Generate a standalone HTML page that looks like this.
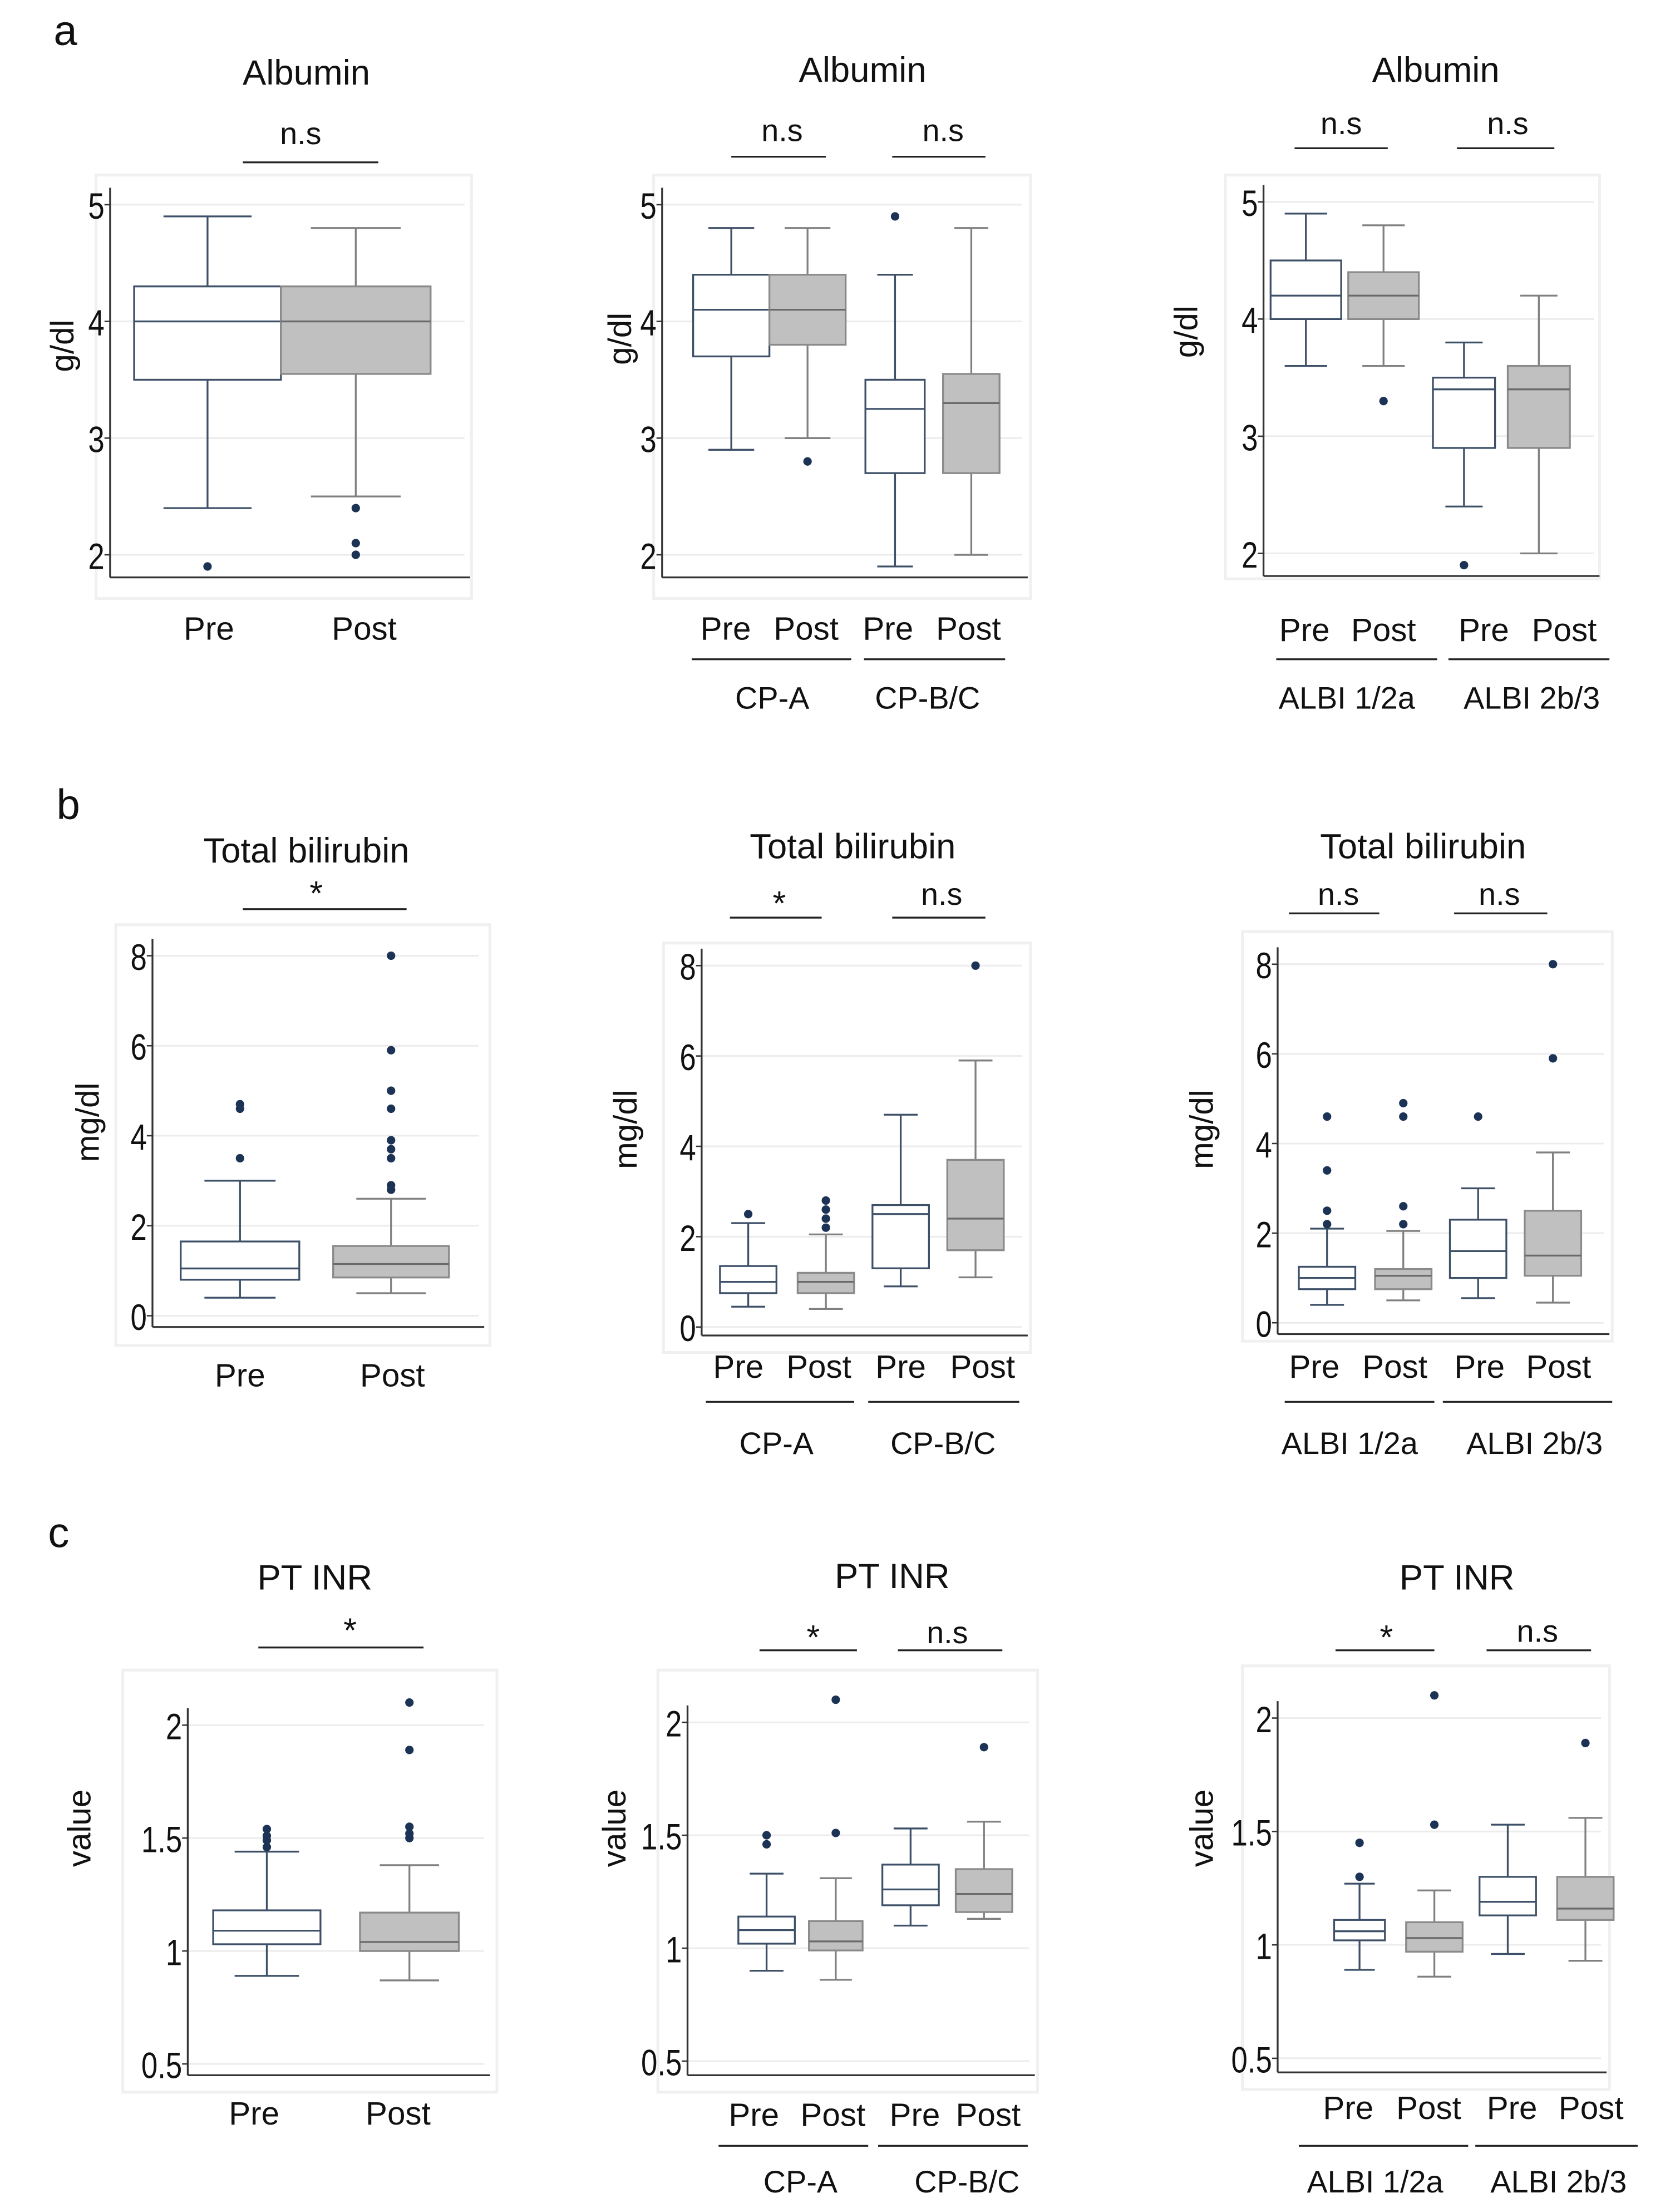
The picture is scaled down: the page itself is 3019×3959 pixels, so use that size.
<!DOCTYPE html>
<html><head><meta charset="utf-8"><style>
html,body{margin:0;padding:0;background:#fff;}
svg{display:block;}
text{font-family:"Liberation Sans",sans-serif;fill:#111;}
.tick{font-family:"Liberation Sans Narrow","Liberation Sans",sans-serif;font-size:26px;}
</style></head><body>
<svg id="fig" width="3019" height="3959" viewBox="0 0 1190 1560.5" preserveAspectRatio="none" xmlns="http://www.w3.org/2000/svg">
<text x="38" y="32" font-size="30">a</text>
<text x="40" y="580" font-size="30">b</text>
<text x="34" y="1096" font-size="30">c</text>
</svg>
<script>
// ---- data: [min, q1, median, q3, max] per box, outliers per box ----
const groupsPrePost = ["Pre","Post"];
const groupsCP = ["Pre","Post","Pre","Post"];
const groupsALBI = ["Pre","Post","Pre","Post"];
const subgroupsCP = ["CP-A","CP-B/C"];
const subgroupsALBI = ["ALBI 1/2a","ALBI 2b/3"];
const albTicks = [2,3,4,5];
const bilTicks = [0,2,4,6,8];
const inrTicks = [0.5,1,1.5,2];
const albTickLabels = ["2","3","4","5"];
const bilTickLabels = ["0","2","4","6","8"];
const inrTickLabels = ["0.5","1","1.5","2"];

const a1Stats = [[2.4,3.5,4.0,4.3,4.9],[2.5,3.55,4.0,4.3,4.8]];
const a1Out = [[1.9],[2.4,2.1,2.0]];
const a2Stats = [[2.9,3.7,4.1,4.4,4.8],[3.0,3.8,4.1,4.4,4.8],[1.9,2.7,3.25,3.5,4.4],[2.0,2.7,3.3,3.55,4.8]];
const a2Out = [[],[2.8],[4.9],[]];
const a3Stats = [[3.6,4.0,4.2,4.5,4.9],[3.6,4.0,4.2,4.4,4.8],[2.4,2.9,3.4,3.5,3.8],[2.0,2.9,3.4,3.6,4.2]];
const a3Out = [[],[3.3],[1.9],[]];

const b1Stats = [[0.4,0.8,1.05,1.65,3.0],[0.5,0.85,1.15,1.55,2.6]];
const b1Out = [[3.5,4.6,4.7],[2.8,2.9,3.5,3.7,3.9,4.6,5.0,5.9,8.0]];
const b2Stats = [[0.45,0.75,1.0,1.35,2.3],[0.4,0.75,1.0,1.2,2.05],[0.9,1.3,2.5,2.7,4.7],[1.1,1.7,2.4,3.7,5.9]];
const b2Out = [[2.5],[2.2,2.4,2.6,2.8],[],[8.0]];
const b3Stats = [[0.4,0.75,1.0,1.25,2.1],[0.5,0.75,1.05,1.2,2.05],[0.55,1.0,1.6,2.3,3.0],[0.45,1.05,1.5,2.5,3.8]];
const b3Out = [[2.2,2.5,3.4,4.6],[2.2,2.6,4.6,4.9],[4.6],[5.9,8.0]];

const c1Stats = [[0.89,1.03,1.09,1.18,1.44],[0.87,1.0,1.04,1.17,1.38]];
const c1Out = [[1.46,1.49,1.51,1.54],[1.5,1.52,1.55,1.89,2.1]];
const c2Stats = [[0.9,1.02,1.08,1.14,1.33],[0.86,0.99,1.03,1.12,1.31],[1.1,1.19,1.26,1.37,1.53],[1.13,1.16,1.24,1.35,1.56]];
const c2Out = [[1.46,1.5],[1.51,2.1],[],[1.89]];
const c3Stats = [[0.89,1.02,1.06,1.11,1.27],[0.86,0.97,1.03,1.1,1.24],[0.96,1.13,1.19,1.3,1.53],[0.93,1.11,1.16,1.3,1.56]];
const c3Out = [[1.3,1.45],[1.53,2.1],[],[1.89]];

// ---- layout ----
const NS="http://www.w3.org/2000/svg";
const svg=document.getElementById('fig');
function mk(tag,attrs,parent){const e=document.createElementNS(NS,tag);for(const k in attrs)e.setAttribute(k,attrs[k]);(parent||svg).appendChild(e);return e;}
function txt(s,x,y,size,anchor,parent,extra){const t=mk('text',Object.assign({x:x,y:y,'font-size':size,'text-anchor':anchor||'middle'},extra||{}),parent);t.textContent=s;return t;}

const panels=[
 {id:'a1',title:'Albumin',tx:217,ty:60,frame:[68,124,334,424],ax:78,ay:409,ar:333,tk:albTicks,tl:albTickLabels,t0:[2,393],t1:[5,145],ylab:'g/dl',ylx:52,yly:245,
  cx:[147,252],hw:[52,53],stats:a1Stats,out:a1Out,xl:groupsPrePost,xlx:[148,258],xly:453,
  sig:[['n.s',213,102,172,268,115]],sub:null},
 {id:'a2',title:'Albumin',tx:611,ty:58,frame:[463,124,730,424],ax:469,ay:409,ar:728,tk:albTicks,tl:albTickLabels,t0:[2,393],t1:[5,145],ylab:'g/dl',ylx:447,yly:240,
  cx:[518,572,634,688],hw:[27,27,21,20],stats:a2Stats,out:a2Out,xl:groupsCP,xlx:[514,571,629,686],xly:453,
  sig:[['n.s',554,100,518,585,111],['n.s',668,100,632,698,111]],sub:{labels:subgroupsCP,lines:[[490,603],[612,712]],ly:467,lx:[547,657],lty:502}},
 {id:'a3',title:'Albumin',tx:1017,ty:58,frame:[868,124,1133,410],ax:895,ay:408,ar:1133,tk:albTicks,tl:albTickLabels,t0:[2,392],t1:[5,143],ylab:'g/dl',ylx:848,yly:235,
  cx:[925,980,1037,1090],hw:[25,25,22,22],stats:a3Stats,out:a3Out,xl:groupsALBI,xlx:[924,980,1051,1108],xly:454,
  sig:[['n.s',950,95,917,983,105],['n.s',1068,95,1032,1101,105]],sub:{labels:subgroupsALBI,lines:[[904,1018],[1026,1140]],ly:467,lx:[954,1085],lty:502}},
 {id:'b1',title:'Total bilirubin',tx:217,ty:611,frame:[82,655,347,953],ax:108,ay:940,ar:343,tk:bilTicks,tl:bilTickLabels,t0:[0,932],t1:[8,677],ylab:'mg/dl',ylx:70,yly:795,
  cx:[170,277],hw:[42,41],stats:b1Stats,out:b1Out,xl:groupsPrePost,xlx:[170,278],xly:982,
  sig:[['*',224,641,172,288,644]],sub:null},
 {id:'b2',title:'Total bilirubin',tx:604,ty:608,frame:[470,668,730,958],ax:497,ay:946,ar:728,tk:bilTicks,tl:bilTickLabels,t0:[0,940],t1:[8,684],ylab:'mg/dl',ylx:451,yly:800,
  cx:[530,585,638,691],hw:[20,20,20,20],stats:b2Stats,out:b2Out,xl:groupsCP,xlx:[523,580,638,696],xly:976,
  sig:[['*',552,648,517,582,650],['n.s',667,641,632,698,650]],sub:{labels:subgroupsCP,lines:[[500,605],[615,722]],ly:993,lx:[550,668],lty:1030}},
 {id:'b3',title:'Total bilirubin',tx:1008,ty:608,frame:[880,660,1142,950],ax:905,ay:945,ar:1140,tk:bilTicks,tl:bilTickLabels,t0:[0,937],t1:[8,683],ylab:'mg/dl',ylx:859,yly:800,
  cx:[940,994,1047,1100],hw:[20,20,20,20],stats:b3Stats,out:b3Out,xl:groupsALBI,xlx:[931,988,1048,1104],xly:976,
  sig:[['n.s',948,641,913,977,647],['n.s',1062,641,1030,1096,647]],sub:{labels:subgroupsALBI,lines:[[910,1016],[1022,1142]],ly:993,lx:[956,1087],lty:1030}},
 {id:'c1',title:'PT INR',tx:223,ty:1126,frame:[87,1183,352,1482],ax:133,ay:1470,ar:347,tk:inrTicks,tl:inrTickLabels,t0:[0.5,1462],t1:[2,1222],ylab:'value',ylx:64,yly:1295,
  cx:[189,290],hw:[38,35],stats:c1Stats,out:c1Out,xl:groupsPrePost,xlx:[180,282],xly:1505,
  sig:[['*',248,1163,183,300,1167]],sub:null},
 {id:'c2',title:'PT INR',tx:632,ty:1125,frame:[466,1183,735,1482],ax:487,ay:1470,ar:733,tk:inrTicks,tl:inrTickLabels,t0:[0.5,1460],t1:[2,1220],ylab:'value',ylx:443,yly:1295,
  cx:[543,592,645,697],hw:[20,19,20,20],stats:c2Stats,out:c2Out,xl:groupsCP,xlx:[534,590,648,700],xly:1506,
  sig:[['*',576,1168,538,607,1169],['n.s',671,1164,636,710,1169]],sub:{labels:subgroupsCP,lines:[[509,615],[622,728]],ly:1520,lx:[567,685],lty:1553}},
 {id:'c3',title:'PT INR',tx:1032,ty:1126,frame:[880,1180,1140,1480],ax:905,ay:1468,ar:1138,tk:inrTicks,tl:inrTickLabels,t0:[0.5,1458],t1:[2,1217],ylab:'value',ylx:859,yly:1295,
  cx:[963,1016,1068,1123],hw:[18,20,20,20],stats:c3Stats,out:c3Out,xl:groupsALBI,xlx:[955,1012,1071,1127],xly:1501,
  sig:[['*',982,1168,946,1016,1169],['n.s',1089,1163,1053,1127,1169]],sub:{labels:subgroupsALBI,lines:[[920,1040],[1045,1160]],ly:1520,lx:[974,1104],lty:1553}}
];

panels.forEach(p=>{
  const g=mk('g',{});
  
  
  const y=v=>p.t0[1]+(v-p.t0[0])*(p.t1[1]-p.t0[1])/(p.t1[0]-p.t0[0]);
  const f=p.frame;
  const fr=mk('rect',{x:f[0],y:f[1],width:f[2]-f[0],height:f[3]-f[1],fill:'#fff',stroke:'#f0f0f0','stroke-width':2},g);
  
  
  p.tk.forEach((v,i)=>{
    const yy=y(v);
    const gl=mk('line',{x1:p.ax,x2:p.ar-4,y1:yy,y2:yy,stroke:'#ececec','stroke-width':1.2},g);
    
    
    mk('line',{x1:p.ax-4,x2:p.ax,y1:yy,y2:yy,stroke:'#333','stroke-width':1},g);
    const t=txt(p.tl[i],0,0,26,'end',g,{class:'tick',transform:`translate(${p.ax-4},${yy+10}) scale(0.8,1)`});
    
    
  });
  const top=y(p.tk[p.tk.length-1])-12;
  const yaxis=mk('line',{x1:p.ax,x2:p.ax,y1:top,y2:p.ay,stroke:'#333','stroke-width':1.3},g);
  
  
  const xaxis=mk('line',{x1:p.ax,x2:p.ar,y1:p.ay,y2:p.ay,stroke:'#333','stroke-width':1.3},g);
  
  
  p.stats.forEach((s,i)=>{
    const post=(i%2===1);
    const col=post?'#808080':'#3e5068';
    const cx=p.cx[i],hw=p.hw[i],cap=hw*0.6;
    const bg=mk('g',{},g);
    
    
    mk('line',{x1:cx,x2:cx,y1:y(s[4]),y2:y(s[3]),stroke:col,'stroke-width':1.3},bg);
    mk('line',{x1:cx,x2:cx,y1:y(s[1]),y2:y(s[0]),stroke:col,'stroke-width':1.3},bg);
    mk('line',{x1:cx-cap,x2:cx+cap,y1:y(s[4]),y2:y(s[4]),stroke:col,'stroke-width':1.3},bg);
    mk('line',{x1:cx-cap,x2:cx+cap,y1:y(s[0]),y2:y(s[0]),stroke:col,'stroke-width':1.3},bg);
    mk('rect',{x:cx-hw,y:y(s[3]),width:2*hw,height:y(s[1])-y(s[3]),fill:post?'#c0c0c0':'#fff',stroke:post?'#8a8a8a':'#3e5068','stroke-width':1.3},bg);
    mk('line',{x1:cx-hw,x2:cx+hw,y1:y(s[2]),y2:y(s[2]),stroke:post?'#6a6a6a':'#3e5068','stroke-width':1.3},bg);
    p.out[i].forEach(o=>{
      const c=mk('circle',{cx:cx,cy:y(o),r:3,fill:'#1c3355'},bg);
      
      
    });
  });
  const tt=txt(p.title,p.tx,p.ty,25,'middle',g);
  
  
  const yl=txt(p.ylab,0,0,23,'middle',g,{transform:`translate(${p.ylx},${p.yly}) rotate(-90)`});
  
  
  p.xl.forEach((l,i)=>{
    const t=txt(l,p.xlx[i],p.xly,23,'middle',g);
    
    
  });
  p.sig.forEach(s=>{
    const t=txt(s[0],s[1],s[2],s[0]==='*'?24:22,'middle',g);
    
    
    const l=mk('line',{x1:s[3],x2:s[4],y1:s[5],y2:s[5],stroke:'#222','stroke-width':1.3},g);
    
    
  });
  if(p.sub){
    p.sub.labels.forEach((l,i)=>{
      const ln=mk('line',{x1:p.sub.lines[i][0],x2:p.sub.lines[i][1],y1:p.sub.ly,y2:p.sub.ly,stroke:'#222','stroke-width':1.3},g);
      
      
      const t=txt(l,p.sub.lx[i],p.sub.lty,22,'middle',g);
      
      
    });
  }
});
</script>
</body></html>
